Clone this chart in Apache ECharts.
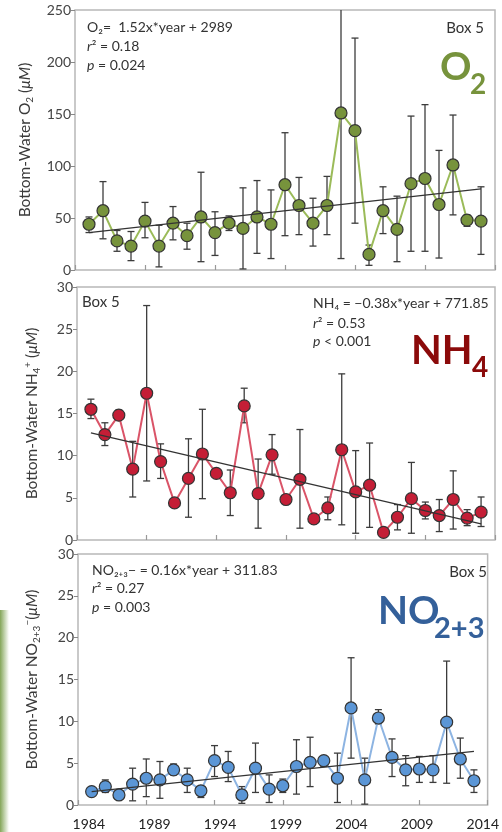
<!DOCTYPE html>
<html>
<head>
<meta charset="utf-8">
<script src="https://cdn.jsdelivr.net/npm/echarts@6/dist/echarts.min.js"></script>
<style>
  html, body { margin: 0; padding: 0; background: #fff; }
  #main { width: 502px; height: 832px; }
</style>
</head>
<body>
<div id="main"></div>
<script>
// sampling years (one point per year)
var years = [1985, 1986, 1987, 1988, 1989, 1990, 1991, 1992, 1993, 1994,
             1995, 1996, 1997, 1998, 1999, 2000, 2001, 2002, 2003, 2004,
             2005, 2006, 2007, 2008, 2009, 2010, 2011, 2012, 2013];
var tickYears = [1984, 1989, 1994, 1999, 2004, 2009, 2014];
var trendYears = [1985, 2013];

// O2 (uM)
var o2Mean = [44, 57, 28, 23, 47, 23, 45, 33, 51, 36, 45, 40, 51, 44, 82, 62, 45, 62, 151, 134, 15, 57, 39, 83, 88, 63, 101, 48, 47];
var o2Low  = [36, 30, 18, 9, 31, 3, 29, 20, 8, 14, 38, 1, 16, 11, 33, 34, 23, 34, 11, 45, 4.5, 35, 8, 18, 18, 11.5, 53, 42, 15];
var o2High = [51, 85, 38, 37, 65, 43, 61, 45, 94, 56, 52, 79, 86, 77, 132, 89, 69, 90, 291, 223, 24, 80, 71, 148, 159, 115, 149, 53, 80];
var o2Trend = [36, 78];

// NH4 (uM)
var nh4Mean = [15.5, 12.5, 14.8, 8.4, 17.4, 9.3, 4.4, 7.3, 10.2, 7.9, 5.6, 15.9, 5.5, 10.1, 4.8, 7.2, 2.5, 3.8, 10.7, 5.7, 6.5, 0.9, 2.7, 4.9, 3.5, 2.9, 4.8, 2.6, 3.3];
var nh4Low  = [14.4, 11.2, 14.3, 5.1, 7.0, 7.3, 4.4, 2.7, 4.9, 7.9, 2.9, 13.9, 1.4, 7.8, 4.8, 1.4, 2.5, 2.4, 1.8, 0.8, 1.5, 0.9, 1.2, 0.8, 2.5, 1.0, 1.3, 1.7, 1.6];
var nh4High = [16.7, 13.9, 15.4, 11.7, 27.8, 11.4, 4.4, 12.0, 15.5, 7.9, 8.3, 18.0, 9.6, 12.5, 4.8, 13.1, 2.5, 5.1, 19.7, 10.6, 11.5, 0.9, 4.2, 9.2, 4.5, 4.8, 8.2, 3.6, 5.1];
var nh4Trend = [12.7, 1.9];

// NO2+3 (uM)
var noMean = [1.6, 2.2, 1.2, 2.5, 3.2, 3.0, 4.2, 3.0, 1.7, 5.3, 4.5, 1.2, 4.4, 1.9, 2.3, 4.6, 5.1, 5.3, 3.2, 11.6, 3.0, 10.4, 5.7, 4.2, 4.3, 4.2, 9.9, 5.5, 2.9];
var noLow  = [1.6, 1.5, 1.2, 0.5, 1.0, 0.8, 3.6, 1.5, 0.9, 3.4, 2.8, 0.2, 1.5, 0.3, 1.5, 1.3, 2.2, 4.6, 0.3, 5.6, 0.1, 9.7, 3.4, 2.3, 2.7, 2.7, 2.6, 3.2, 1.5];
var noHigh = [1.6, 3.0, 1.2, 4.4, 5.5, 5.2, 4.9, 4.4, 2.2, 7.1, 6.4, 2.2, 7.4, 3.6, 3.1, 7.8, 8.1, 5.8, 6.2, 17.6, 5.6, 11.4, 7.9, 5.9, 5.8, 5.9, 17.2, 8.0, 4.2];
var noTrend = [1.6, 6.4];

var chart = echarts.init(document.getElementById('main'));
var FONT = 'Lato, "Liberation Sans", sans-serif';

function pairs(xs, ys) {
    return xs.map(function (x, i) { return [x, ys[i]]; });
}

// error bars drawn with a custom series
function errorBars(idx, low, high) {
    return {
        type: 'custom',
        xAxisIndex: idx,
        yAxisIndex: idx,
        clip: true,
        z: 2,
        silent: true,
        data: years.map(function (y, i) { return [y, low[i], high[i]]; }),
        renderItem: function (params, api) {
            var lo = api.coord([api.value(0), api.value(1)]);
            var hi = api.coord([api.value(0), api.value(2)]);
            var w = 3.5;
            var st = { stroke: '#3c3c3c', lineWidth: 1.3 };
            return {
                type: 'group',
                children: [
                    { type: 'line', shape: { x1: lo[0], y1: hi[1], x2: lo[0], y2: lo[1] }, style: st },
                    { type: 'line', shape: { x1: lo[0] - w, y1: hi[1], x2: lo[0] + w, y2: hi[1] }, style: st },
                    { type: 'line', shape: { x1: lo[0] - w, y1: lo[1], x2: lo[0] + w, y2: lo[1] }, style: st }
                ]
            };
        }
    };
}

function meanLine(idx, data, lineColor, dotColor) {
    return {
        type: 'line',
        xAxisIndex: idx,
        yAxisIndex: idx,
        data: pairs(years, data),
        symbol: 'circle',
        symbolSize: 12,
        z: 3,
        lineStyle: { color: lineColor, width: 2 },
        itemStyle: { color: dotColor, borderColor: '#333', borderWidth: 1.2 }
    };
}

function trendLine(idx, data) {
    return {
        type: 'line',
        xAxisIndex: idx,
        yAxisIndex: idx,
        data: pairs(trendYears, data),
        symbol: 'none',
        z: 4,
        lineStyle: { color: '#333', width: 1.3 }
    };
}

function xAx(idx) {
    return {
        type: 'value', gridIndex: idx, min: 1984, max: 2014, interval: 5,
        axisLine: { show: false },
        axisTick: { show: true, inside: true, length: 5, lineStyle: { color: '#999', width: 1.2 } },
        axisLabel: { show: false },
        splitLine: { show: false }
    };
}

function yAx(idx, max, interval, name, gap) {
    return {
        type: 'value', gridIndex: idx, min: 0, max: max, interval: interval,
        name: name,
        nameLocation: 'middle',
        nameGap: gap,
        nameTextStyle: {
            rich: {
                n: { fontFamily: FONT, fontSize: 15.5, color: '#3a3a3a', lineHeight: 20 },
                i: { fontFamily: FONT, fontSize: 15.5, color: '#3a3a3a', fontStyle: 'italic', lineHeight: 20 },
                s: { fontFamily: FONT, fontSize: 10, color: '#3a3a3a', lineHeight: 10, padding: [9, 0, 0, 0] },
                p: { fontFamily: FONT, fontSize: 10, color: '#3a3a3a', lineHeight: 10, padding: [0, 0, 9, 0] }
            }
        },
        axisLine: { show: false },
        axisTick: { show: true, length: 4, lineStyle: { color: '#888' } },
        axisLabel: { fontFamily: FONT, fontSize: 14, color: '#444', margin: 4 },
        splitLine: { show: false }
    };
}

function txt(x, y, text, opts) {
    opts = opts || {};
    return {
        type: 'text', x: x, y: y, z: 10,
        style: {
            text: text,
            fontFamily: FONT,
            fontSize: opts.size || 14,
            fontWeight: opts.weight || 'normal',
            fill: opts.color || '#333',
            align: opts.align || 'left',
            verticalAlign: 'middle',
            rich: {
                i: { fontFamily: FONT, fontSize: opts.size || 14, fontStyle: 'italic', fill: opts.color || '#333' }
            }
        }
    };
}

var frame = { show: true, borderColor: '#b8b8b8', borderWidth: 1.5 };

var option = {
    backgroundColor: '#fff',
    animation: false,
    grid: [
        Object.assign({ left: 75, top: 10, width: 420, height: 260 }, frame),
        Object.assign({ left: 77, top: 287, width: 418, height: 253 }, frame),
        Object.assign({ left: 78, top: 554, width: 417, height: 251 }, frame)
    ],
    xAxis: [
        xAx(0), xAx(1), xAx(2),
        {
            // year labels under the bottom panel
            type: 'value', gridIndex: 2, position: 'bottom', min: 1983.18, max: 2014.37,
            axisLine: { show: false }, axisTick: { show: false }, splitLine: { show: false },
            axisLabel: {
                customValues: tickYears,
                formatter: function (v) { return String(v); },
                fontFamily: FONT, fontSize: 14, color: '#222', margin: 12
            }
        }
    ],
    yAxis: [
        yAx(0, 250, 50, '{n|Bottom-Water O}{s|2}{n| (}{i|μM}{n|)}', 40),
        yAx(1, 30, 5, '{n|Bottom-Water NH}{s|4}{p|+}{n| (}{i|μM}{n|)}', 35),
        yAx(2, 30, 5, '{n|Bottom-Water NO}{s|2+3}{p|−}{n|(}{i|μM}{n|)}', 36)
    ],
    series: [
        errorBars(0, o2Low, o2High), meanLine(0, o2Mean, '#9BBB59', '#77933C'), trendLine(0, o2Trend),
        errorBars(1, nh4Low, nh4High), meanLine(1, nh4Mean, '#DA5468', '#C41E36'), trendLine(1, nh4Trend),
        errorBars(2, noLow, noHigh), meanLine(2, noMean, '#8DB4E2', '#5B96D6'), trendLine(2, noTrend)
    ],
    graphic: [
        // faint green strip at the left edge
        {
            type: 'rect', shape: { x: 0, y: 610, width: 9, height: 222 }, z: 0,
            style: {
                fill: new echarts.graphic.LinearGradient(0, 0, 1, 0, [
                    { offset: 0, color: 'rgba(110,150,60,0.85)' },
                    { offset: 1, color: 'rgba(110,150,60,0)' }
                ])
            }
        },
        // panel 1
        txt(87, 27, 'O₂=  1.52x*year + 2989'),
        txt(87, 46, '{i|r}² = 0.18'),
        txt(87, 65, '{i|p} = 0.024'),
        txt(484, 28, 'Box 5', { size: 15, align: 'right' }),
        txt(440, 67, 'O', { size: 39, weight: 'bold', color: '#77933C' }),
        txt(470, 85, '2', { size: 28, weight: 'bold', color: '#77933C' }),
        // panel 2
        txt(82, 302, 'Box 5', { size: 15 }),
        txt(313, 303, 'NH₄ = −0.38x*year + 771.85'),
        txt(313, 323, '{i|r}² = 0.53'),
        txt(313, 341, '{i|p} < 0.001'),
        txt(411, 351, 'NH', { size: 40, weight: 'bold', color: '#8B0A0A' }),
        txt(472, 368, '4', { size: 28, weight: 'bold', color: '#8B0A0A' }),
        // panel 3
        txt(92, 570, 'NO₂₊₃− = 0.16x*year + 311.83'),
        txt(92, 588, '{i|r}² = 0.27'),
        txt(92, 607, '{i|p} = 0.003'),
        txt(487, 572, 'Box 5', { size: 15, align: 'right' }),
        txt(378, 611, 'NO', { size: 39, weight: 'bold', color: '#34609A' }),
        txt(434, 629, '2+3', { size: 29, weight: 'bold', color: '#34609A' })
    ]
};

chart.setOption(option);
</script>
</body>
</html>
